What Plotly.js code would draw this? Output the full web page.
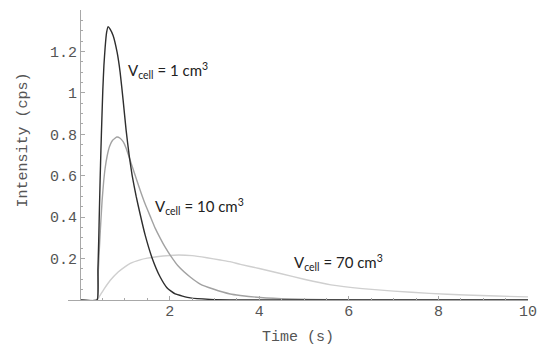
<!DOCTYPE html>
<html>
<head>
<meta charset="utf-8">
<script src="https://cdn.plot.ly/plotly-3.0.1.min.js"></script>
<style>html,body{margin:0;padding:0;background:#fff;}#chart{width:539px;height:350px;}</style>
</head>
<body>
<div id="chart"></div>
<script>
// Vcell = 1 cm3 (dark curve)
const t1 = [0, 0.38, 0.398, 0.416, 0.431, 0.447, 0.465, 0.485, 0.507, 0.532, 0.559, 0.592, 0.626, 0.67, 0.737, 0.827, 0.894, 0.961, 1.028, 1.095, 1.162, 1.251, 1.341, 1.453, 1.609, 1.788, 1.944, 2.123, 2.458, 2.9, 3.58, 4.5, 10];
const v1 = [0, 0, 0.145, 0.289, 0.434, 0.578, 0.723, 0.867, 1.012, 1.133, 1.219, 1.292, 1.320, 1.308, 1.277, 1.195, 1.099, 0.964, 0.819, 0.699, 0.602, 0.501, 0.414, 0.313, 0.202, 0.111, 0.058, 0.029, 0.010, 0.003, 0.0005, 0, 0];
// Vcell = 10 cm3 (mid-grey curve)
const t10 = [0, 0.38, 0.398, 0.418, 0.440, 0.465, 0.492, 0.525, 0.559, 0.603, 0.659, 0.726, 0.82, 0.894, 0.961, 1.028, 1.095, 1.162, 1.251, 1.341, 1.453, 1.564, 1.676, 1.788, 1.899, 2.011, 2.19, 2.458, 2.682, 2.972, 3.352, 3.575, 4.022, 4.69, 5.59, 7.0, 10];
const v10 = [0, 0, 0.096, 0.193, 0.289, 0.386, 0.482, 0.569, 0.636, 0.694, 0.742, 0.771, 0.787, 0.781, 0.764, 0.733, 0.689, 0.646, 0.588, 0.530, 0.463, 0.405, 0.347, 0.299, 0.255, 0.217, 0.164, 0.111, 0.077, 0.053, 0.029, 0.022, 0.012, 0.005, 0.0015, 0.0003, 0];
// Vcell = 70 cm3 (light-grey curve)
const t70 = [0, 0.38, 0.45, 0.52, 0.67, 0.85, 1.0, 1.12, 1.34, 1.5, 1.71, 2.0, 2.2, 2.5, 2.83, 3.13, 3.35, 3.58, 4.0, 4.47, 5.0, 5.6, 6.3, 7.0, 7.8, 8.6, 9.3, 10];
const v70 = [0, 0, 0.024, 0.048, 0.094, 0.135, 0.16, 0.177, 0.194, 0.202, 0.209, 0.215, 0.217, 0.214, 0.204, 0.193, 0.185, 0.172, 0.152, 0.128, 0.10, 0.073, 0.055, 0.043, 0.032, 0.024, 0.019, 0.015];

const xTickVals = [2, 4, 6, 8, 10];
const xTickText = ["2", "4", "6", "8", "10"];
const yTickVals = [0.2, 0.4, 0.6, 0.8, 1.0, 1.2];
const yTickText = ["0.2", "0.4", "0.6", "0.8", "1", "1.2"];
const curveLabels = ["V<sub>cell</sub> = 1 cm<sup>3</sup>", "V<sub>cell</sub> = 10 cm<sup>3</sup>", "V<sub>cell</sub> = 70 cm<sup>3</sup>"];
const xTitle = "Time (s)";
const yTitle = "Intensity (cps)";

const mono = "Liberation Mono, Courier New, monospace";
const axisCol = "#a8a8a8";
const textCol = "#555555";

const traces = [
  {x: t70, y: v70, mode: "lines", line: {color: "#cfcfcf", width: 1.4, shape: "spline", smoothing: 0.4}, hoverinfo: "skip"},
  {x: t10, y: v10, mode: "lines", line: {color: "#a2a2a2", width: 1.4, shape: "spline", smoothing: 0.4}, hoverinfo: "skip"},
  {x: t1, y: v1, mode: "lines", line: {color: "#2e2e2e", width: 1.4, shape: "spline", smoothing: 0.4}, hoverinfo: "skip"}
];

const labelFont = {family: "Lato, Open Sans, sans-serif", size: 15, color: "#222"};
const layout = {
  width: 539, height: 350,
  margin: {l: 68, r: 11, t: 10, b: 50},
  paper_bgcolor: "#fff", plot_bgcolor: "#fff",
  showlegend: false,
  xaxis: {
    range: [-0.27, 10], showgrid: false, zeroline: false,
    showline: true, linecolor: axisCol, linewidth: 1.2,
    ticks: "inside", ticklen: 4, tickcolor: axisCol, tickwidth: 1,
    tickmode: "array", tickvals: xTickVals, ticktext: xTickText,
    ticklabelstandoff: -3,
    minor: {ticks: "inside", ticklen: 2, tickcolor: axisCol, tickmode: "linear", tick0: 0, dtick: 0.5, showgrid: false},
    tickfont: {family: mono, size: 15, color: textCol},
    title: {text: xTitle, font: {family: mono, size: 15, color: textCol}, standoff: 10}
  },
  yaxis: {
    range: [0, 1.4], showgrid: false, zeroline: false,
    anchor: "free", position: 0.27 / 10.27,
    showline: true, linecolor: axisCol, linewidth: 1.2,
    ticks: "inside", ticklen: 4, tickcolor: axisCol, tickwidth: 1,
    tickmode: "array", tickvals: yTickVals, ticktext: yTickText,
    minor: {ticks: "inside", ticklen: 2, tickcolor: axisCol, tickmode: "linear", tick0: 0, dtick: 0.05, showgrid: false},
    tickfont: {family: mono, size: 15, color: textCol}
  },
  annotations: [
    {x: 0, y: 0.77, xref: "paper", yref: "y", xshift: -45, text: yTitle, textangle: -90, showarrow: false, xanchor: "center", yanchor: "middle", font: {family: mono, size: 15, color: textCol}},
    {x: 1.03, y: 1.11, xref: "x", yref: "y", text: curveLabels[0], showarrow: false, xanchor: "left", yanchor: "middle", font: labelFont},
    {x: 1.63, y: 0.45, xref: "x", yref: "y", text: curveLabels[1], showarrow: false, xanchor: "left", yanchor: "middle", font: labelFont},
    {x: 4.72, y: 0.183, xref: "x", yref: "y", text: curveLabels[2], showarrow: false, xanchor: "left", yanchor: "middle", font: labelFont}
  ]
};

Plotly.newPlot("chart", traces, layout, {staticPlot: true, displayModeBar: false});
</script>
</body>
</html>
